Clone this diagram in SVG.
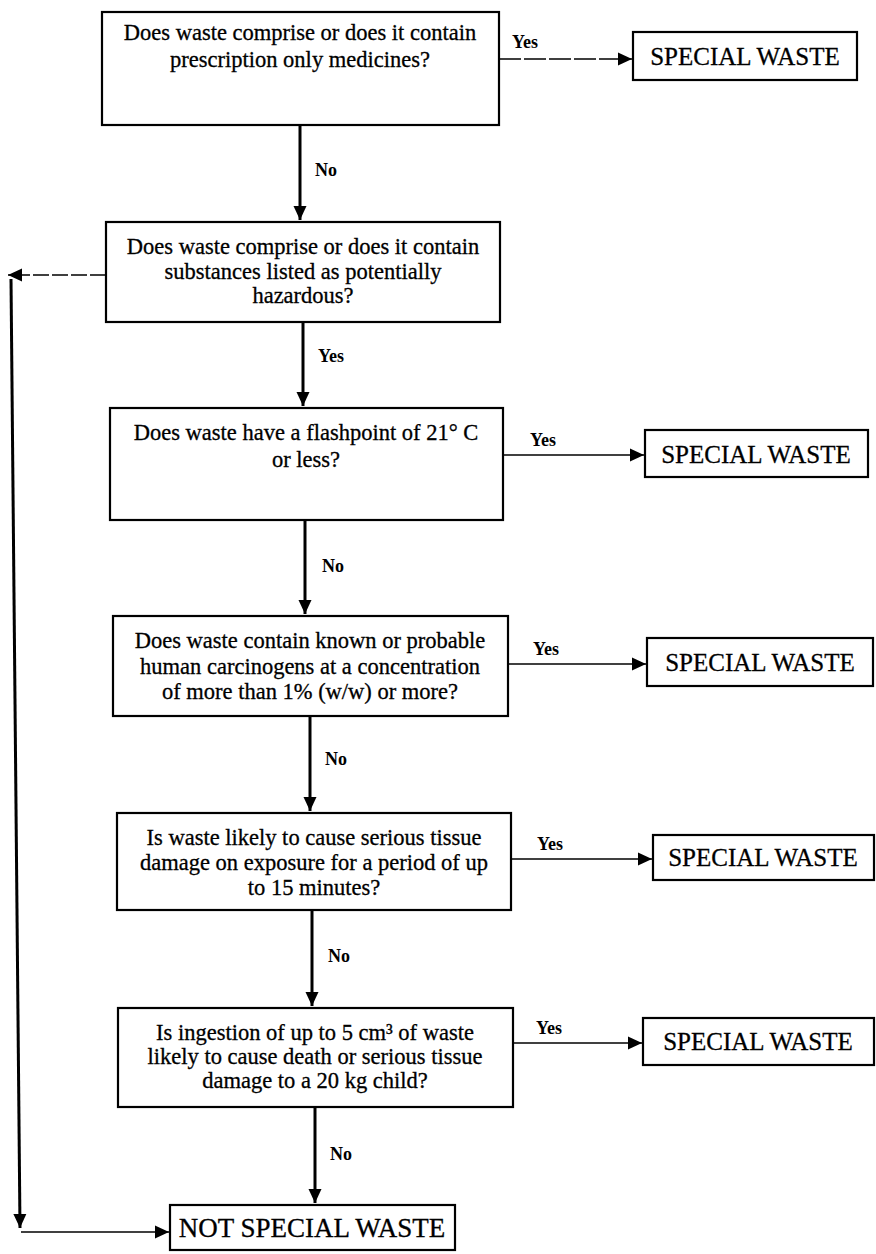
<svg xmlns="http://www.w3.org/2000/svg" width="876" height="1254" viewBox="0 0 876 1254">
<style>
.box{fill:#fff;stroke:#000;stroke-width:2.2}
.q{font-family:"Liberation Serif","Times New Roman",serif;font-size:22.5px;fill:#000;stroke:#000;stroke-width:0.3;text-anchor:middle}
.sw{font-family:"Liberation Serif","Times New Roman",serif;font-size:25px;fill:#000;stroke:#000;stroke-width:0.3;text-anchor:middle}
.nsw{font-size:27px}
.lbl{font-family:"Liberation Serif","Times New Roman",serif;font-size:18px;font-weight:bold;fill:#000}
.v{stroke:#000;stroke-width:3;fill:none}
.h{stroke:#000;stroke-width:1.6;fill:none}
</style>
<defs>
<marker id="ah" markerUnits="userSpaceOnUse" markerWidth="15" markerHeight="15" viewBox="0 0 15 15" refX="14" refY="7.5" orient="auto">
<path d="M0,1 L14,7.5 L0,14 Z" fill="#000"/>
</marker>
</defs>
<rect width="876" height="1254" fill="#fff"/>

<g id="connectors">
<path class="v" d="M300,125 V220" marker-end="url(#ah)"/>
<path class="v" d="M303,322 V406" marker-end="url(#ah)"/>
<path class="v" d="M305,520 V614" marker-end="url(#ah)"/>
<path class="v" d="M310,716 V811" marker-end="url(#ah)"/>
<path class="v" d="M312,910 V1006" marker-end="url(#ah)"/>
<path class="v" d="M315,1107 V1203" marker-end="url(#ah)"/>
<path class="h" d="M499,59 H632" marker-end="url(#ah)" stroke-dasharray="22 3"/>
<path class="h" d="M503,455 H644" marker-end="url(#ah)"/>
<path class="h" d="M508,664 H646" marker-end="url(#ah)"/>
<path class="h" d="M511,859 H652" marker-end="url(#ah)"/>
<path class="h" d="M513,1043 H642" marker-end="url(#ah)"/>
<path class="h" d="M106,275 H8" marker-end="url(#ah)" stroke-dasharray="16 3"/>
<path class="v" d="M11,279 L20,1228" marker-end="url(#ah)"/>
<path class="h" d="M21,1232 H169" marker-end="url(#ah)"/>
<text class="lbl" x="512" y="48">Yes</text>
<text class="lbl" x="530" y="446">Yes</text>
<text class="lbl" x="533" y="655">Yes</text>
<text class="lbl" x="537" y="850">Yes</text>
<text class="lbl" x="536" y="1034">Yes</text>
<text class="lbl" x="315" y="176">No</text>
<text class="lbl" x="318" y="362">Yes</text>
<text class="lbl" x="322" y="572">No</text>
<text class="lbl" x="325" y="765">No</text>
<text class="lbl" x="328" y="962">No</text>
<text class="lbl" x="330" y="1160">No</text>
</g>

<g id="q1">
<rect class="box" x="102" y="12" width="397" height="113"/>
<text class="q" x="300" y="40">Does waste comprise or does it contain</text>
<text class="q" x="300" y="67">prescription only medicines?</text>
</g>
<g id="s1">
<rect class="box" x="633" y="32" width="224" height="48"/>
<text class="sw" x="745" y="65">SPECIAL WASTE</text>
</g>

<g id="q2">
<rect class="box" x="106" y="222" width="394" height="100"/>
<text class="q" x="303" y="254">Does waste comprise or does it contain</text>
<text class="q" x="303" y="279">substances listed as potentially</text>
<text class="q" x="303" y="303">hazardous?</text>
</g>

<g id="q3">
<rect class="box" x="110" y="408" width="393" height="112"/>
<text class="q" x="306" y="440">Does waste have a flashpoint of 21° C</text>
<text class="q" x="306" y="467">or less?</text>
</g>
<g id="s2">
<rect class="box" x="645" y="430" width="223" height="47"/>
<text class="sw" x="756" y="463">SPECIAL WASTE</text>
</g>

<g id="q4">
<rect class="box" x="113" y="616" width="395" height="100"/>
<text class="q" x="310" y="648">Does waste contain known or probable</text>
<text class="q" x="310" y="674">human carcinogens at a concentration</text>
<text class="q" x="310" y="699">of more than 1% (w/w) or more?</text>
</g>
<g id="s3">
<rect class="box" x="647" y="638" width="226" height="48"/>
<text class="sw" x="760" y="671">SPECIAL WASTE</text>
</g>

<g id="q5">
<rect class="box" x="117" y="813" width="394" height="97"/>
<text class="q" x="314" y="845">Is waste likely to cause serious tissue</text>
<text class="q" x="314" y="870">damage on exposure for a period of up</text>
<text class="q" x="314" y="895">to 15 minutes?</text>
</g>
<g id="s4">
<rect class="box" x="653" y="835" width="221" height="45"/>
<text class="sw" x="763" y="866">SPECIAL WASTE</text>
</g>

<g id="q6">
<rect class="box" x="118" y="1008" width="395" height="99"/>
<text class="q" x="315" y="1040">Is ingestion of up to 5 cm³ of waste</text>
<text class="q" x="315" y="1064">likely to cause death or serious tissue</text>
<text class="q" x="315" y="1088">damage to a 20 kg child?</text>
</g>
<g id="s5">
<rect class="box" x="643" y="1018" width="231" height="47"/>
<text class="sw" x="758" y="1050">SPECIAL WASTE</text>
</g>

<g id="end">
<rect class="box" x="170" y="1205" width="285" height="45"/>
<text class="sw nsw" x="312" y="1237">NOT SPECIAL WASTE</text>
</g>
</svg>
